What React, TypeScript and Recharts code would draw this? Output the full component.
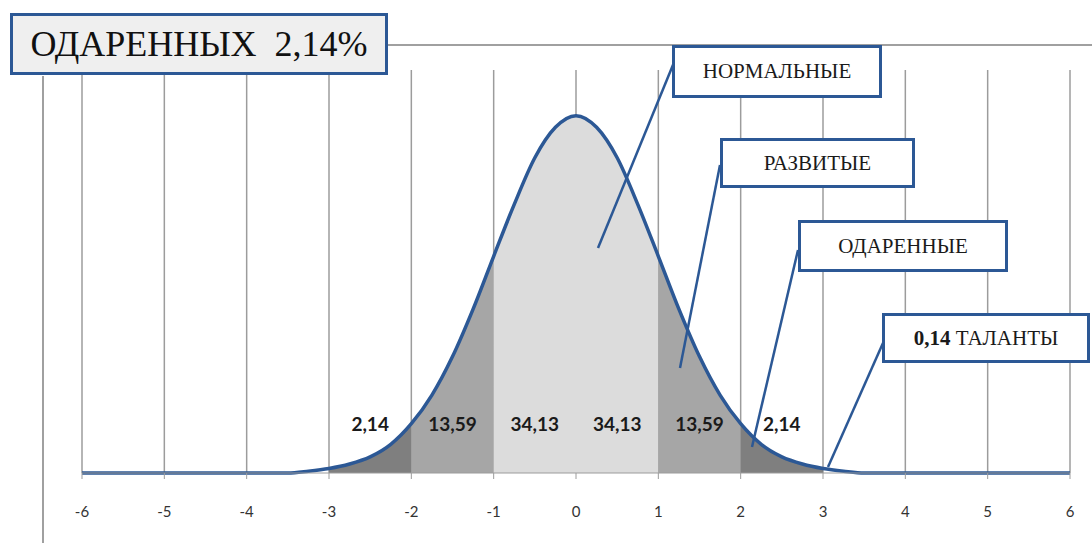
import React from 'react';
import { ComposedChart, Area, Line, XAxis, YAxis, CartesianGrid, ReferenceDot } from 'recharts';

// curve, step 0.25
const xValues = [
  -6, -5.75, -5.5, -5.25, -5, -4.75, -4.5, -4.25, -4, -3.75, -3.5, -3.25, -3, -2.75, -2.5, -2.25, -2, -1.75, -1.5,
  -1.25, -1, -0.75, -0.5, -0.25, 0, 0.25, 0.5, 0.75, 1, 1.25, 1.5, 1.75, 2, 2.25, 2.5, 2.75, 3, 3.25, 3.5, 3.75, 4,
  4.25, 4.5, 4.75, 5, 5.25, 5.5, 5.75, 6,
];
const density = [
  0, 0, 0, 0, 0, 0, 0, 0, 0, 0, 0, 0.002, 0.005, 0.01, 0.018, 0.032, 0.055, 0.087, 0.13, 0.183, 0.242, 0.3, 0.352,
  0.386, 0.399, 0.386, 0.352, 0.3, 0.242, 0.183, 0.13, 0.087, 0.055, 0.032, 0.018, 0.01, 0.005, 0.002, 0, 0, 0, 0, 0,
  0, 0, 0, 0, 0, 0,
];

const xTicks = [-6, -5, -4, -3, -2, -1, 0, 1, 2, 3, 4, 5, 6];
const bandEdges = [-3, -2, -1, 0, 1, 2, 3];
const bandLabels = ['2,14', '13,59', '34,13', '34,13', '13,59', '2,14'];
const bandColors = ['#7f7f7f', '#a6a6a6', '#dcdcdc', '#dcdcdc', '#a6a6a6', '#7f7f7f'];

const data = xValues.map((x, i) => {
  const row: Record<string, number | null> = { x, y: density[i] };
  bandLabels.forEach((_, b) => {
    row['b' + b] = x >= bandEdges[b] && x <= bandEdges[b + 1] ? density[i] : null;
  });
  return row;
});

const BLUE = '#2c5895';

const callouts = [
  { text: 'НОРМАЛЬНЫЕ', left: 672, top: 45, w: 210, h: 53 },
  { text: 'РАЗВИТЫЕ', left: 720, top: 138, w: 195, h: 50 },
  { text: 'ОДАРЕННЫЕ', left: 798, top: 220, w: 210, h: 52 },
];

const pointers = [
  [675, 60, 598, 248],
  [720, 165, 680, 368],
  [798, 250, 752, 447],
  [883, 343, 828, 467],
];

const boxStyle: React.CSSProperties = {
  position: 'absolute',
  boxSizing: 'border-box',
  border: `3px solid ${BLUE}`,
  background: '#fff',
  display: 'flex',
  alignItems: 'center',
  justifyContent: 'center',
  fontFamily: '"Liberation Serif", serif',
  color: '#1a1a1a',
  fontSize: 21,
};

export default function App() {
  return (
    <div style={{ position: 'absolute', left: 0, top: 0, width: 1092, height: 543, background: '#fff', overflow: 'hidden' }}>
      <ComposedChart width={1092} height={543} data={data} margin={{ top: 70, right: 22, bottom: 20, left: 82 }}>
        <CartesianGrid horizontal={false} stroke="#9c9c9c" strokeWidth={1.5} />
        <XAxis
          type="number"
          dataKey="x"
          domain={[-6, 6]}
          ticks={xTicks}
          interval={0}
          height={50}
          stroke="#9c9c9c"
          tickSize={6}
          tickMargin={27}
          tick={{ fill: '#333', fontSize: 15, fontFamily: 'Lato' }}
        />
        <YAxis hide domain={[0, 0.45]} />
        {bandLabels.map((_, b) => (
          <Area
            key={b}
            dataKey={'b' + b}
            type="monotone"
            fill={bandColors[b]}
            fillOpacity={1}
            stroke="none"
            isAnimationActive={false}
          />
        ))}
        <Line dataKey="y" type="monotone" stroke={BLUE} strokeWidth={3.5} dot={false} isAnimationActive={false} />
        {bandLabels.map((t, b) => (
          <ReferenceDot
            key={'l' + b}
            x={(bandEdges[b] + bandEdges[b + 1]) / 2}
            y={0.054}
            r={0}
            fill="none"
            stroke="none"
            label={{ value: t, position: 'center', fill: '#1a1a1a', fontSize: 19, fontFamily: 'Lato', fontWeight: 'bold' }}
          />
        ))}
      </ComposedChart>

      {/* frame remnants */}
      <div style={{ position: 'absolute', left: 388, top: 44, width: 704, height: 2, background: '#a0a0a0' }} />
      <div style={{ position: 'absolute', left: 42, top: 76, width: 2, height: 470, background: '#a0a0a0' }} />

      <svg width={1092} height={543} style={{ position: 'absolute', left: 0, top: 0, pointerEvents: 'none' }}>
        {pointers.map(([x1, y1, x2, y2], i) => (
          <line key={i} x1={x1} y1={y1} x2={x2} y2={y2} stroke={BLUE} strokeWidth={2.5} />
        ))}
      </svg>

      <div
        style={{
          ...boxStyle,
          left: 10,
          top: 13,
          width: 378,
          height: 62,
          background: '#efefef',
          fontSize: 36,
          color: '#111',
        }}
      >
        ОДАРЕННЫХ&nbsp;&nbsp;2,14%
      </div>
      {callouts.map((c) => (
        <div key={c.text} style={{ ...boxStyle, left: c.left, top: c.top, width: c.w, height: c.h }}>
          {c.text}
        </div>
      ))}
      <div style={{ ...boxStyle, left: 882, top: 313, width: 208, height: 50 }}>
        <b>0,14</b>&nbsp;ТАЛАНТЫ
      </div>
    </div>
  );
}
